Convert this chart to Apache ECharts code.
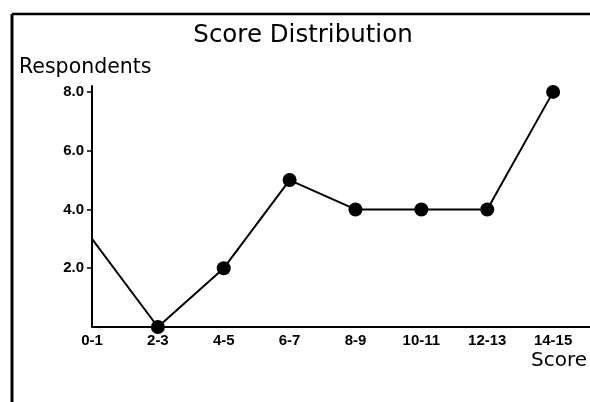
<!DOCTYPE html>
<html><head><meta charset="utf-8">
<script src="https://cdn.jsdelivr.net/npm/echarts@6/dist/echarts.min.js"></script>
<style>html,body{margin:0;padding:0;background:#fff}#c{width:590px;height:402px}</style>
</head><body><div id="c"></div>
<script>
const categories = ['0-1','2-3','4-5','6-7','8-9','10-11','12-13','14-15'];
const respondents = [3, 0, 2, 5, 4, 4, 4, 8];
const yTicks = [2, 4, 6, 8];

const chart = echarts.init(document.getElementById('c'));
const font = '"DejaVu Sans", sans-serif';
const tickFont = '"Liberation Sans", Arial, sans-serif';
chart.setOption({
  animation: false,
  backgroundColor: '#fff',
  title: {
    text: 'Score Distribution', left: 298, top: 18, textAlign: 'center',
    textStyle: {fontFamily: font, fontSize: 24.5, fontWeight: 'normal', color: '#000'}
  },
  grid: {left: 92, right: 0, top: 86, bottom: 75, containLabel: false},
  xAxis: {
    type: 'value', min: 0, max: 7.56, interval: 1,
    axisLine: {show: true, lineStyle: {color: '#000', width: 2}},
    axisTick: {show: false},
    splitLine: {show: false},
    axisLabel: {
      showMaxLabel: false,
      fontFamily: tickFont, fontSize: 15, fontWeight: 'bold', color: '#000', margin: 6,
      formatter: v => (Number.isInteger(v) && categories[v] !== undefined) ? categories[v] : ''
    }
  },
  yAxis: {
    type: 'value', min: 0, max: 8.2, interval: 2,
    axisLine: {show: true, lineStyle: {color: '#000', width: 2}},
    axisTick: {show: true, length: 5, lineStyle: {color: '#000', width: 1.5},
      customValues: yTicks},
    splitLine: {show: false},
    axisLabel: {
      fontFamily: tickFont, fontSize: 15, fontWeight: 'bold', color: '#000', margin: 8,
      customValues: yTicks,
      formatter: v => v.toFixed(1)
    }
  },
  series: [{
    type: 'line',
    data: respondents.map((v, i) => ({value: [i, v], symbolSize: i === 0 ? 0 : 14})),
    symbol: 'circle',
    lineStyle: {color: '#000', width: 2},
    itemStyle: {color: '#000'}
  }],
  graphic: [
    {type: 'line', shape: {x1: 12, y1: 14, x2: 590, y2: 14}, style: {stroke: '#000', lineWidth: 2.5}},
    {type: 'line', shape: {x1: 12, y1: 14, x2: 12, y2: 402}, style: {stroke: '#000', lineWidth: 3}},
    {type: 'text', left: 19, top: 57, style: {text: 'Respondents', font: '20.5px "DejaVu Sans", sans-serif', fill: '#000'}},
    {type: 'text', right: 3, top: 351, style: {text: 'Score', font: '20px "DejaVu Sans", sans-serif', fill: '#000'}}
  ]
});
</script></body></html>
